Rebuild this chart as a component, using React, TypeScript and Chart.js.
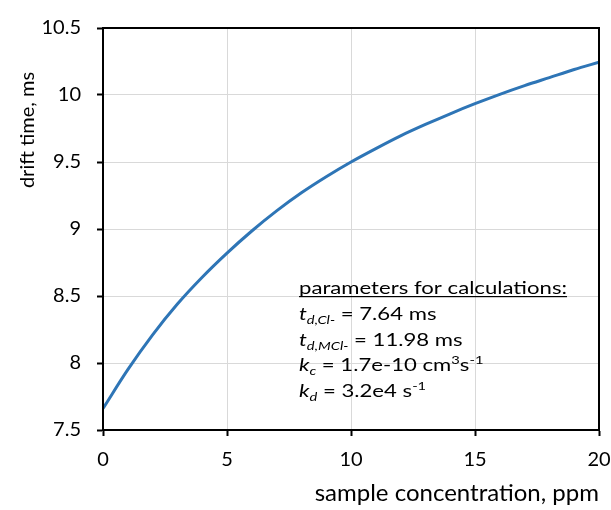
import React, { useEffect, useRef } from "react";
import { Chart, registerables } from "chart.js";

Chart.register(...registerables);

const concentration = [0, 1, 2, 3, 4, 5, 6, 7, 8, 9, 10, 11, 12, 13, 14, 15, 16, 17, 18, 19, 20];
const driftTime = [7.66, 7.95, 8.21, 8.44, 8.64, 8.82, 8.985, 9.135, 9.27, 9.39, 9.5, 9.6, 9.695, 9.78, 9.86, 9.935, 10.005, 10.07, 10.13, 10.19, 10.245];
const xTickLabels = ["0", "5", "10", "15", "20"];
const yTickLabels = ["7.5", "8", "8.5", "9", "9.5", "10", "10.5"];
const xTitle = "sample concentration, ppm";
const yTitle = "drift time, ms";
const noteTitle = "parameters for calculations:";

const FONT = "Lato";

type Seg = { t: string; it?: boolean; sub?: boolean; sup?: boolean };
const noteLines: Seg[][] = [
  [{ t: "t", it: true }, { t: "d,Cl-", it: true, sub: true }, { t: " = 7.64 ms" }],
  [{ t: "t", it: true }, { t: "d,MCl-", it: true, sub: true }, { t: " = 11.98 ms" }],
  [{ t: "k", it: true }, { t: "c", it: true, sub: true }, { t: " = 1.7e-10 cm" }, { t: "3", sup: true }, { t: "s" }, { t: "-1", sup: true }],
  [{ t: "k", it: true }, { t: "d", it: true, sub: true }, { t: " = 3.2e4 s" }, { t: "-1", sup: true }],
];

const framePlugin = {
  id: "frame",
  afterDatasetsDraw(chart: any) {
    const { ctx, chartArea } = chart;
    ctx.save();
    ctx.strokeStyle = "#000";
    ctx.lineWidth = 2;
    ctx.strokeRect(chartArea.left, chartArea.top, chartArea.right - chartArea.left, chartArea.bottom - chartArea.top);
    ctx.restore();
  },
  afterDraw(chart: any) {
    const { ctx, chartArea } = chart;
    // y axis title
    ctx.save();
    ctx.fillStyle = "#000";
    ctx.font = `20px ${FONT}`;
    ctx.textAlign = "center";
    ctx.textBaseline = "middle";
    ctx.translate(28, 130);
    ctx.rotate(-Math.PI / 2);
    ctx.fillText(yTitle, 0, 0);
    ctx.restore();

    // parameters note
    const x0 = chartArea.left + 196;
    const y0 = chartArea.top + 266;
    const base = 18;
    const small = 12;
    ctx.save();
    ctx.fillStyle = "#000";
    ctx.textBaseline = "alphabetic";
    ctx.textAlign = "left";
    ctx.font = `${base}px ${FONT}`;
    const w = ctx.measureText(noteTitle).width;
    const sx = 268 / w;
    ctx.translate(x0, 0);
    ctx.scale(sx, 1);
    ctx.fillText(noteTitle, 0, y0);
    ctx.fillRect(0, y0 + 2, w, 1.2);
    noteLines.forEach((line, i) => {
      let x = 0;
      const y = y0 + 26 + i * 25.5;
      line.forEach((s) => {
        const size = s.sub || s.sup ? small : base;
        ctx.font = `${s.it ? "italic " : ""}${size}px ${FONT}`;
        const yy = s.sub ? y + 4 : s.sup ? y - 7 : y;
        ctx.fillText(s.t, x, yy);
        x += ctx.measureText(s.t).width;
      });
    });
    ctx.restore();
  },
};

export default function App() {
  const ref = useRef<HTMLCanvasElement>(null);
  useEffect(() => {
    if (!ref.current) return;
    const chart = new Chart(ref.current, {
      type: "line",
      data: {
        datasets: [
          {
            data: concentration.map((x, i) => ({ x, y: driftTime[i] })),
            borderColor: "#2e75b6",
            borderWidth: 3,
            pointRadius: 0,
            cubicInterpolationMode: "monotone",
            fill: false,
          },
        ],
      },
      options: {
        animation: false,
        responsive: false,
        maintainAspectRatio: false,
        layout: { padding: { top: 26, right: 12, left: 0, bottom: 0 } },
        plugins: { legend: { display: false }, tooltip: { enabled: false } },
        scales: {
          x: {
            type: "linear",
            min: 0,
            max: 20,
            afterFit: (s: any) => {
              s.height = 80;
              s.paddingLeft = 0;
              s.paddingRight = 0;
            },
            ticks: {
              stepSize: 5,
              padding: 12,
              color: "#000",
              font: { family: FONT, size: 20 },
              maxRotation: 0,
              callback: (v: any, i: number) => xTickLabels[i] ?? String(v),
            },
            grid: { color: "#d9d9d9", lineWidth: 1, tickColor: "#000", tickLength: 6, tickWidth: 2 },
            border: { color: "#000", width: 2 },
            title: {
              display: true,
              text: xTitle,
              align: "end",
              color: "#000",
              font: { family: FONT, size: 24 },
              padding: { top: 0, bottom: 2 },
            },
          },
          y: {
            min: 7.5,
            max: 10.5,
            afterFit: (s: any) => {
              s.width = 103;
            },
            ticks: {
              stepSize: 0.5,
              padding: 16,
              color: "#000",
              font: { family: FONT, size: 20 },
              callback: (v: any, i: number) => yTickLabels[i] ?? String(v),
            },
            grid: { color: "#d9d9d9", lineWidth: 1, tickColor: "#000", tickLength: 6, tickWidth: 2 },
            border: { color: "#000", width: 2 },
            title: { display: false },
          },
        },
      },
      plugins: [framePlugin],
    } as any);
    return () => chart.destroy();
  }, []);
  return (
    <div style={{ position: "fixed", left: 0, top: 0, width: 611, height: 510, background: "#fff" }}>
      <canvas ref={ref} width={611} height={510} style={{ width: 611, height: 510 }} />
    </div>
  );
}
